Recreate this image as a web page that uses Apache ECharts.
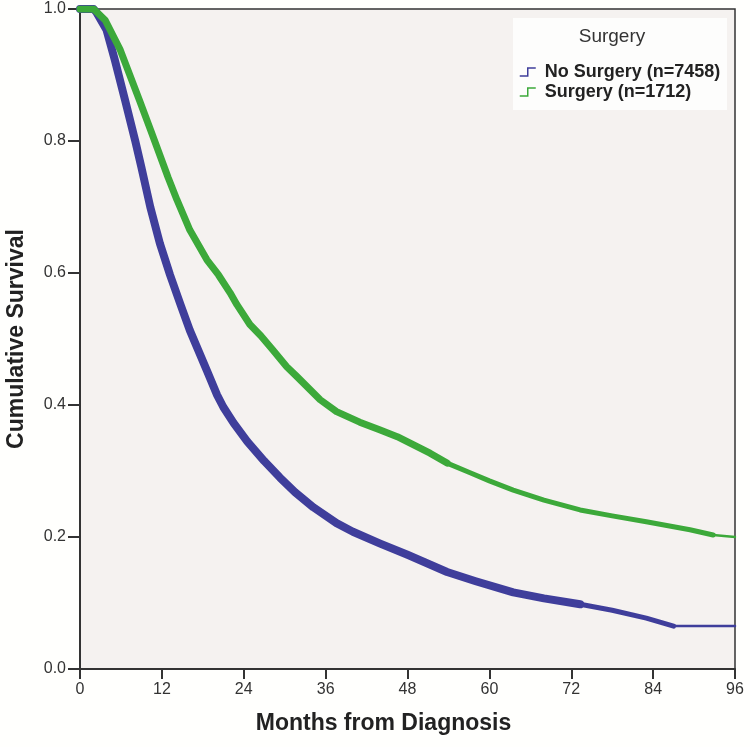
<!DOCTYPE html>
<html>
<head>
<meta charset="utf-8">
<script src="https://cdn.jsdelivr.net/npm/echarts@6/dist/echarts.min.js"></script>
<style>
html,body{margin:0;padding:0;background:#fffffd;}
#chart{width:750px;height:747px;}
</style>
</head>
<body>
<div id="chart"></div>
<script>
const xTicks = [0, 12, 24, 36, 48, 60, 72, 84, 96];
const yTicks = [0.0, 0.2, 0.4, 0.6, 0.8, 1.0];

const noSurgeryName = 'No Surgery (n=7458)';
const noSurgeryMonths = [0, 2, 2.4, 3.9, 5.1, 6.6, 8.1, 9.0, 10.3, 11.7, 13.2, 14.7, 16.1, 18.6, 20.1, 21, 22.5, 24.5, 27, 29.3, 31.5, 34.2, 37.6, 40, 44, 48, 53.8, 58, 63.5, 68, 73.3, 78, 83, 86, 87, 96];
const noSurgerySurv = [1, 1, 0.995, 0.968, 0.923, 0.862, 0.80, 0.76, 0.70, 0.645, 0.597, 0.553, 0.513, 0.452, 0.415, 0.397, 0.373, 0.345, 0.315, 0.29, 0.268, 0.245, 0.221, 0.208, 0.19, 0.173, 0.147, 0.133, 0.116, 0.107, 0.098, 0.089, 0.077, 0.068, 0.065, 0.065];

const surgeryName = 'Surgery (n=1712)';
const surgeryMonths = [0, 2, 3.7, 5.9, 8.7, 10.4, 12.9, 14.2, 16.1, 18.6, 20.3, 22, 23, 24.9, 26.5, 28.3, 30.3, 31.8, 35.2, 37.6, 41, 44, 46.5, 51.3, 53.8, 57, 60, 63.5, 68, 73.3, 78, 83, 89.4, 92.8, 96];
const surgerySurv = [1, 1, 0.983, 0.938, 0.862, 0.815, 0.745, 0.711, 0.665, 0.62, 0.597, 0.57, 0.552, 0.522, 0.505, 0.483, 0.458, 0.443, 0.408, 0.39, 0.374, 0.362, 0.352, 0.327, 0.312, 0.298, 0.285, 0.271, 0.256, 0.241, 0.232, 0.223, 0.211, 0.203, 0.2];

const blue = '#3f3e9b';
const green = '#3ca93a';

function pairs(xs, ys){ return xs.map((x,i)=>[x, ys[i]]); }
function part(xs, ys, from, to){ return pairs(xs, ys).filter(p => p[0] >= from && p[0] <= to); }

const stepIcon = 'path://M0,10 L10,10 L10,0 L20,0';
const font = '"Liberation Sans", Arial, sans-serif';

function seg(name, xs, ys, from, to, color, width, z){
  return {name: name, type: 'line', data: part(xs, ys, from, to), showSymbol: false,
    lineStyle: {color: color, width: width, join: 'round', cap: 'round'}, itemStyle: {color: color}, z: z};
}

const chart = echarts.init(document.getElementById('chart'), null, {renderer:'canvas'});
chart.setOption({
  backgroundColor: '#fffffd',
  animation: false,
  grid: {left: 80, right: 15, top: 9, bottom: 78, outerBoundsMode: 'none', containLabel: false,
         show: true, backgroundColor: '#f5f2f0', borderColor: '#333', borderWidth: 1.5},
  xAxis: {
    type: 'value', min: 0, max: 96, interval: 12,
    name: 'Months from Diagnosis', nameLocation: 'middle', nameGap: 43,
    nameTextStyle: {fontFamily: font, fontWeight: 'bold', fontSize: 23, color: '#222', padding: [0, 48, 0, 0]},
    axisLine: {show: true, lineStyle: {color: '#333', width: 2}},
    axisTick: {show: true, length: 10, lineStyle: {color: '#333', width: 2}},
    axisLabel: {fontFamily: font, fontSize: 16, color: '#333', margin: 13,
      formatter: v => xTicks.includes(v) ? String(v) : ''},
    splitLine: {show: false}
  },
  yAxis: {
    type: 'value', min: 0, max: 1, interval: 0.2,
    name: 'Cumulative Survival', nameLocation: 'middle', nameGap: 52,
    nameTextStyle: {fontFamily: font, fontWeight: 'bold', fontSize: 23, color: '#222'},
    axisLine: {show: true, lineStyle: {color: '#333', width: 2}},
    axisTick: {show: true, length: 12, lineStyle: {color: '#333', width: 2}},
    axisLabel: {fontFamily: font, fontSize: 16, color: '#333', margin: 14,
      formatter: v => { const t = yTicks.find(k => Math.abs(k - v) < 1e-9); return t === undefined ? '' : t.toFixed(1); }},
    splitLine: {show: false}
  },
  legend: {
    orient: 'vertical', left: 514, top: 58, itemGap: 2, itemWidth: 30, itemHeight: 8,
    textStyle: {fontFamily: font, fontWeight: 'bold', fontSize: 18, color: '#222', padding: [0,0,0,-3]},
    data: [
      {name: noSurgeryName, icon: stepIcon, itemStyle: {color: 'transparent', borderColor: blue, borderWidth: 1.5}},
      {name: surgeryName, icon: stepIcon, itemStyle: {color: 'transparent', borderColor: green, borderWidth: 1.5}}
    ]
  },
  graphic: [
    {type: 'rect', left: 513, top: 18, z: 0, shape: {width: 214, height: 92}, style: {fill: '#fdfdfc'}},
    {type: 'text', x: 612, y: 37, z: 10, style: {text: 'Surgery', font: '19px ' + font, fill: '#333', align: 'center', verticalAlign: 'middle'}}
  ],
  series: [
    seg(noSurgeryName, noSurgeryMonths, noSurgerySurv, 0, 73.3, blue, 8, 3),
    seg(noSurgeryName, noSurgeryMonths, noSurgerySurv, 73.3, 87, blue, 5, 3),
    seg(noSurgeryName, noSurgeryMonths, noSurgerySurv, 87, 96, blue, 2.5, 3),
    seg(surgeryName, surgeryMonths, surgerySurv, 0, 53.8, green, 7, 4),
    seg(surgeryName, surgeryMonths, surgerySurv, 53.8, 92.8, green, 5, 4),
    seg(surgeryName, surgeryMonths, surgerySurv, 92.8, 96, green, 2.5, 4)
  ]
});
</script>
</body>
</html>
